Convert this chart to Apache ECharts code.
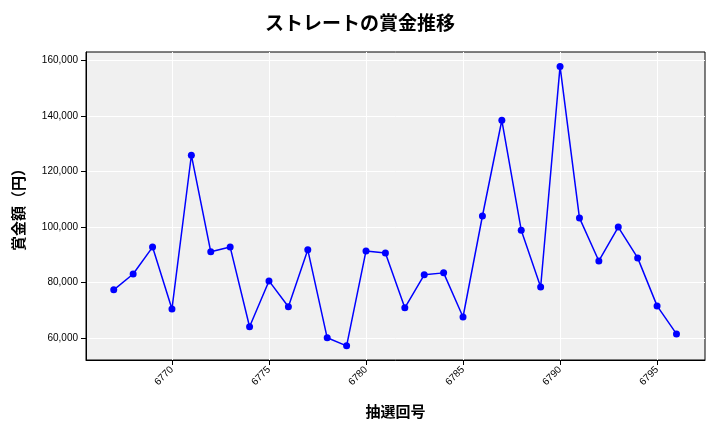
<!DOCTYPE html>
<html><head><meta charset="utf-8">
<script src="https://cdn.jsdelivr.net/npm/echarts@6/dist/echarts.min.js"></script>
<style>body{margin:0}#c{width:720px;height:432px}</style></head>
<body><div id="c"></div>
<script>
const draws = [6767,6768,6769,6770,6771,6772,6773,6774,6775,6776,6777,6778,6779,6780,6781,6782,6783,6784,6785,6786,6787,6788,6789,6790,6791,6792,6793,6794,6795,6796];
const prizes = [77300,83000,92700,70400,125800,91000,92700,64000,80500,71200,91700,60000,57100,91300,90600,70800,82700,83400,67500,103900,138400,98800,78300,157800,103200,87700,99900,88800,71500,61400];
const xTicks = [6770,6775,6780,6785,6790,6795];
const yTicks = [60000,80000,100000,120000,140000,160000];
const font = '"Noto Sans CJK JP", sans-serif';
const chart = echarts.init(document.getElementById('c'));
chart.setOption({
  animation:false,
  title:{text:'ストレートの賞金推移',left:'center',top:8,textStyle:{fontFamily:font,fontSize:19,fontWeight:'bold',color:'#000'}},
  grid:{left:86,right:15,top:52,bottom:72,backgroundColor:'#f0f0f0',show:true,borderColor:'#000',borderWidth:1},
  xAxis:{type:'value',min:6765.57,max:6797.47,
    name:'抽選回号',nameLocation:'middle',nameGap:44,nameTextStyle:{fontFamily:font,fontSize:15,fontWeight:'bold',color:'#000'},
    axisLine:{lineStyle:{color:'#000'}},axisTick:{show:true,customValues:xTicks,lineStyle:{color:'#000'}},
    axisLabel:{rotate:45,fontSize:10,color:'#000',customValues:xTicks,formatter:v=>String(v)},
    splitLine:{show:true,lineStyle:{color:'#fff',width:1}}},
  yAxis:{type:'value',min:52000,max:163000,
    name:'賞金額（円）',nameLocation:'middle',nameGap:60,nameTextStyle:{fontFamily:font,fontSize:15,fontWeight:'bold',color:'#000'},
    axisLine:{show:true,lineStyle:{color:'#000'}},
    axisLabel:{fontSize:10,color:'#000',customValues:yTicks,formatter:v=>v.toLocaleString('en-US')},
    axisTick:{show:true,customValues:yTicks,lineStyle:{color:'#000'}},
    splitLine:{show:true,lineStyle:{color:'#fff'}}},
  series:[{type:'line',data:draws.map((d,i)=>[d,prizes[i]]),symbol:'circle',symbolSize:7,
    lineStyle:{color:'#0000ff',width:1.5},itemStyle:{color:'#0000ff'}}]
});
</script></body></html>
